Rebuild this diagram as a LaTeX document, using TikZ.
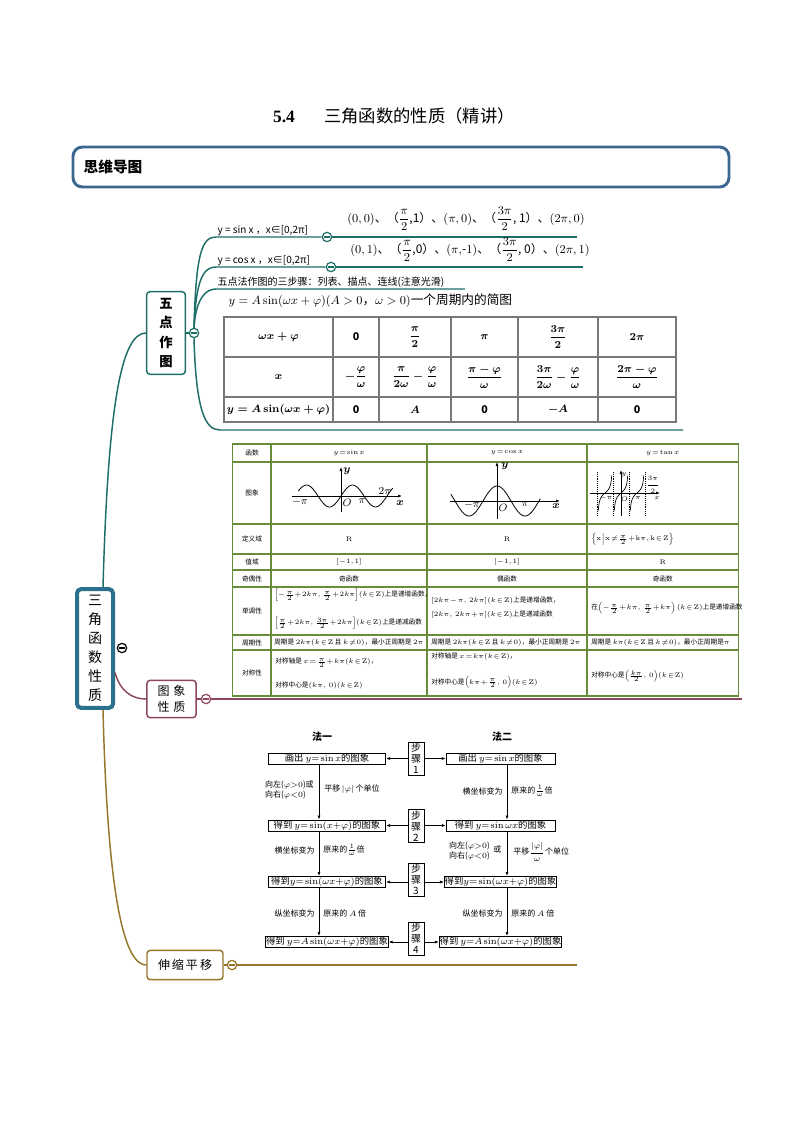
\documentclass[tikz,border=0pt]{standalone}
\usepackage{amsmath, amssymb}
\usepackage[no-math]{fontspec}
\setmainfont{Noto Sans CJK SC}
\newfontfamily\lserif{Liberation Serif}
\usetikzlibrary{arrows.meta, calc, positioning}

\definecolor{hdrblue}{RGB}{58,104,145}
\definecolor{rootblue}{RGB}{43,112,140}
\definecolor{brteal}{RGB}{30,110,104}
\definecolor{brred}{RGB}{140,72,90}
\definecolor{brgold}{RGB}{150,118,40}
\definecolor{tabgreen}{RGB}{104,140,60}
\definecolor{tabgray}{RGB}{120,120,120}

% tight spacing in small formulas
\newcommand{\tightmath}{\thinmuskip=2mu\medmuskip=1mu\thickmuskip=1.5mu}

\begin{document}
\begin{tikzpicture}[
    x=0.75pt, y=-0.75pt,
    >=Latex,
    fold/.style={circle, draw=#1, line width=0.9pt, fill=white, minimum size=7pt, inner sep=0pt,
        path picture={\draw[#1, line width=0.8pt] ([xshift=1.5pt]path picture bounding box.west) -- ([xshift=-1.5pt]path picture bounding box.east);}},
    topic/.style={draw=#1, line width=1.1pt, rounded corners=2.5pt, align=center, inner sep=0pt},
    branch/.style={draw=#1, line width=1.1pt},
    lab/.style={anchor=south west, inner sep=1pt, font=\fontsize{7.5}{9}\selectfont},
    tcell/.style={font=\fontsize{8}{9}\selectfont\boldmath\bfseries, inner sep=0pt},
    pcell/.style={font=\fontsize{5}{6}\selectfont\tightmath, inner sep=0pt, align=left},
    grid5/.style={tabgray, line width=1.1pt},
    pgrid/.style={tabgreen, line width=0.8pt},
    axis/.style={->, >={Latex[length=3pt, width=2.2pt]}, line width=0.5pt},
    glab/.style={inner sep=0pt, font=\fontsize{8}{8}\selectfont},
    tlab/.style={inner sep=0pt, font=\fontsize{4.5}{5}\selectfont},
    fbox/.style={draw, line width=0.5pt, minimum height=8.5pt, inner sep=0.3pt, font=\fontsize{7}{8}\selectfont\tightmath},
    stepbox/.style={draw, line width=0.5pt, align=center, minimum width=12pt, minimum height=24.5pt, inner sep=0.5pt, font=\fontsize{7.5}{8.2}\selectfont},
    note/.style={inner sep=0pt, align=left, font=\fontsize{6}{7.5}\selectfont\tightmath},
    flow/.style={->, >={Latex[length=3pt, width=2.2pt]}, line width=0.5pt}
]
\fill[white] (0,0) rectangle (794,1123);
\useasboundingbox (0,0) rectangle (794,1123);

% title and header
\node[font=\fontsize{13}{15}\selectfont] (title) at (394,116) {{\lserif\bfseries 5.4}\hspace{22pt}三角函数的性质（精讲）};
\draw[hdrblue, line width=2.2pt, rounded corners=7pt] (73,147) rectangle (729,187);
\node[anchor=west, font=\fontsize{11}{12}\selectfont\bfseries] (maptitle) at (79,167) {思维导图};

% root and main topics
\node[draw=rootblue, line width=3pt, rounded corners=3pt, minimum width=27pt, minimum height=89pt,
      inner sep=0pt, align=center, font=\fontsize{10.5}{14.3}\selectfont] (root) at (95,648.5) {三\\角\\函\\数\\性\\质};
\node[fold=black] (rootfold) at (122,648) {};

\node[topic=brteal, minimum width=29pt, minimum height=62pt, font=\fontsize{10}{14.3}\selectfont\bfseries] (wudian) at (166,333) {五\\点\\作\\图};
\node[fold=brteal] (wdfold) at (194,333) {};
\node[topic=brred, minimum width=37pt, minimum height=28pt, font=\fontsize{9}{12}\selectfont] (tuxiang) at (171.5,699) {图\,\,象\\性\,\,质};
\node[fold=brred] (txfold) at (206,699) {};
\node[topic=brgold, minimum width=57pt, minimum height=22pt, font=\fontsize{9}{11}\selectfont] (shensuo) at (185,965) {伸\,缩\,平\,移};
\node[fold=brgold] (ssfold) at (232,965) {};

\draw[branch=brteal] ($(root.north)+(8,0)$) .. controls +(5,-180) and +(-25,0) .. (wudian.west);
\draw[branch=brred] ($(root.east)+(0,24)$) .. controls +(5,18) and +(-15,0) .. (tuxiang.west);
\draw[branch=brgold] ($(root.south)+(8,0)$) .. controls +(5,200) and +(-20,0) .. (shensuo.west);
\draw[branch=brteal] (wudian) -- (wdfold);
\draw[branch=brred] (tuxiang) -- (txfold);
\draw[branch=brgold] (shensuo) -- (ssfold);

% five points
\node[lab] (sinlab) at (216,237) {y = sin x ，x∈[0,2π]};
\node[fold=brteal] (sinfold) at (327,237) {};
\coordinate (sinend) at (577,237);
\draw[branch=brteal] (wdfold.north) .. controls +(2,-75) and +(-14,0) .. (sinlab.south west) -- (sinfold.west);
\draw[branch=brteal] (sinfold.east) -- (sinend);
\node[font=\fontsize{9}{10}\selectfont] (sinpts) at (466,219)
    {$(0,0)$、（$\dfrac{\pi}{2}$,1）、$(\pi,0)$、（$\dfrac{3\pi}{2}$, 1）、$(2\pi,0)$};

\node[lab] (coslab) at (216,267) {y = cos x ，x∈[0,2π]};
\node[fold=brteal] (cosfold) at (331,267) {};
\coordinate (cosend) at (583,267);
\draw[branch=brteal] (wdfold.north) .. controls +(2,-50) and +(-12,0) .. (coslab.south west) -- (cosfold.west);
\draw[branch=brteal] (cosfold.east) -- (cosend);
\node[font=\fontsize{9}{10}\selectfont] (cospts) at (470,250)
    {$(0,1)$、（$\dfrac{\pi}{2}$,0）、$(\pi,$-$1)$、（$\dfrac{3\pi}{2}$, 0）、$(2\pi,1)$};

\node[lab] (steplab) at (216,289) {五点法作图的三步骤：列表、描点、连线(注意光滑)};
\coordinate (stepend) at (465,289);
\draw[branch=brteal] (wdfold.north) .. controls +(2,-30) and +(-10,0) .. (steplab.south west) -- (stepend);

\node[anchor=west, font=\fontsize{9.5}{11}\selectfont] (capt) at (224,301)
    {$y=A\sin(\omega x+\varphi)(A>0$，$\omega>0)$一个周期内的简图};

% five point table
\draw[grid5] (224,317) rectangle (676,422);
\foreach \cx in {333,379,451,518,598} \draw[grid5] (\cx,317) -- (\cx,422);
\foreach \cy in {357,397} \draw[grid5] (224,\cy) -- (676,\cy);
\foreach \t/\cx [count=\i] in {{$\omega x+\varphi$}/278.5, 0/356, {$\dfrac{\pi}{2}$}/415, {$\pi$}/484.5, {$\dfrac{3\pi}{2}$}/558, {$2\pi$}/637}
    \node[tcell] (a\i) at (\cx,337) {\t};
\foreach \t/\cx [count=\i] in {{$x$}/278.5, {$-\dfrac{\varphi}{\omega}$}/356, {$\dfrac{\pi}{2\omega}-\dfrac{\varphi}{\omega}$}/415,
        {$\dfrac{\pi-\varphi}{\omega}$}/484.5, {$\dfrac{3\pi}{2\omega}-\dfrac{\varphi}{\omega}$}/558, {$\dfrac{2\pi-\varphi}{\omega}$}/637}
    \node[tcell] (b\i) at (\cx,377) {\t};
\foreach \t/\cx [count=\i] in {{$y=A\sin(\omega x+\varphi)$}/278.5, 0/356, {$A$}/415, 0/484.5, {$-A$}/558, 0/637}
    \node[tcell] (c\i) at (\cx,409.5) {\t};

\coordinate (tblstart) at (220,430);
\coordinate (tblend) at (683,430);
\draw[branch=brteal] (wdfold.south) .. controls +(2,75) and +(-14,0) .. (tblstart) -- (tblend);

% graph properties table
\coordinate (txend) at (742,699);
\draw[branch=brred] (txfold.east) -- (txend);
\draw[pgrid] (232.5,444) rectangle (738.5,696);
\foreach \cx in {271,427,587} \draw[pgrid] (\cx,444) -- (\cx,696);
\foreach \cy in {462,524,554,570,587,635,650} \draw[pgrid] (232.5,\cy) -- (738.5,\cy);
\foreach \t/\cy [count=\i] in {函数/453, 图象/493, 定义域/539, 值域/562, 奇偶性/578.5, 单调性/611, 周期性/642.5, 对称性/673}
    \node[pcell] (h\i) at (252,\cy) {\t};

\node[pcell] (p12) at (349,453) {$y=\sin x$};
\node[pcell] (p13) at (507,453) {$y=\cos x$};
\node[pcell] (p14) at (662.75,453) {$y=\tan x$};

% sin graph
\draw[axis] (292,496) -- (402,496);
\draw[axis] (341,512) -- (341,467);
\draw[line width=0.6pt, smooth, samples=60, domain=-1.85:2.25] plot ({341+23*\x}, {496-11*sin(\x*180)});
\node[glab] (sa) at (300,502) {$-\pi$};
\node[glab] (sb) at (347,503) {$O$};
\node[glab] (sc) at (362,501) {$\pi$};
\node[glab] (sd) at (385,491) {$2\pi$};
\node[glab] (se) at (400,503) {$\boldsymbol{x}$};
\node[glab] (sf) at (347,471) {$\boldsymbol{y}$};

% cos graph
\draw[axis] (450,501) -- (560,501);
\draw[axis] (497,519) -- (497,462);
\draw[line width=0.6pt, smooth, samples=60, domain=-1.65:1.55] plot ({497+28*\x}, {501-15*cos(\x*180)});
\node[glab] (ca) at (472,505) {$-\pi$};
\node[glab] (cb) at (503,508) {$O$};
\node[glab] (cc) at (525,504) {$\pi$};
\node[glab] (cd) at (556,506) {$\boldsymbol{x}$};
\node[glab] (ce) at (505,466) {$\boldsymbol{y}$};

% tan graph
\foreach \ax in {597,613,629,645} \draw[densely dotted, line width=0.4pt] (\ax,472) -- (\ax,515);
\draw[axis] (590,493) -- (660,493);
\draw[axis] (621,516) -- (621,470);
\foreach \k in {-1,0,1}
    \draw[line width=0.5pt, smooth, samples=30, domain=-0.42:0.42] plot ({621+16*(\k+\x)}, {493-4.5*tan(\x*180)});
\node[tlab] (ta) at (606,498) {$-\pi$};
\node[tlab] (tb) at (624.5,499) {$O$};
\node[tlab] (tc) at (638,498) {$\pi$};
\node[tlab] (td) at (653,485) {$\dfrac{3\pi}{2}$};
\node[tlab] (te) at (657,498) {$x$};
\node[tlab] (tf) at (624,475) {$y$};

\node[pcell] (p32) at (349,539) {$\mathrm{R}$};
\node[pcell] (p33) at (507,539) {$\mathrm{R}$};
\node[pcell, anchor=west] (p34) at (591,539) {$\Bigl\{\mathrm{x}\Bigm|\mathrm{x}\neq\frac{\pi}{2}+\mathrm{k}\pi,\mathrm{k}\in\mathrm{Z}\Bigr\}$};
\node[pcell] (p42) at (349,562) {$[-1,1]$};
\node[pcell] (p43) at (507,562) {$[-1,1]$};
\node[pcell] (p44) at (662.75,562) {$\mathrm{R}$};
\node[pcell] (p52) at (349,578.5) {奇函数};
\node[pcell] (p53) at (507,578.5) {偶函数};
\node[pcell] (p54) at (662.75,578.5) {奇函数};
\node[pcell, anchor=west] (p62) at (274,609)
    {$\left[-\frac{\pi}{2}+2k\pi,\,\frac{\pi}{2}+2k\pi\right]$$(k\in\mathrm{Z})$上是递增函数，\\[11pt]
     $\left[\frac{\pi}{2}+2k\pi,\,\frac{3\pi}{2}+2k\pi\right]$$(k\in\mathrm{Z})$上是递减函数};
\node[pcell, anchor=west] (p63) at (431,607.5)
    {$[2k\pi-\pi,\ 2k\pi](k\in\mathrm{Z})$上是递增函数，\\[4pt]$[2k\pi,\ 2k\pi+\pi](k\in\mathrm{Z})$上是递减函数};
\node[pcell, anchor=west] (p64) at (591,608)
    {在$\left(-\frac{\pi}{2}+k\pi,\ \frac{\pi}{2}+k\pi\right)(k\in\mathrm{Z})$上是递增函数};
\node[pcell, anchor=west] (p72) at (274,642.5) {周期是 $2k\pi(k\in\mathrm{Z}$ 且 $k\neq0)$，最小正周期是 $2\pi$};
\node[pcell, anchor=west] (p73) at (431,642.5) {周期是 $2k\pi(k\in\mathrm{Z}$ 且 $k\neq0)$，最小正周期是 $2\pi$};
\node[pcell, anchor=west] (p74) at (591,642.5) {周期是 $k\pi(k\in\mathrm{Z}$ 且 $k\neq0)$，最小正周期是$\pi$};
\node[pcell, anchor=west] (p82) at (275,673.5)
    {对称轴是 $x=\frac{\pi}{2}+k\pi(k\in\mathrm{Z})$，\\[9.5pt]对称中心是$(k\pi,\ 0)(k\in\mathrm{Z})$};
\node[pcell, anchor=west] (p83) at (431,671)
    {对称轴是 $x=k\pi(k\in\mathrm{Z})$，\\[11pt]对称中心是$\Bigl(k\pi+\frac{\pi}{2},\ 0\Bigr)(k\in\mathrm{Z})$};
\node[pcell, anchor=west] (p84) at (591,676) {对称中心是$\Bigl(\frac{k\pi}{2},\ 0\Bigr)(k\in\mathrm{Z})$};

% stretch and shift flow
\coordinate (ssend) at (577,965);
\draw[branch=brgold] (ssfold.east) -- (ssend);
\node[font=\fontsize{7.5}{8}\selectfont\bfseries] (m1) at (322,737) {法一};
\node[font=\fontsize{7.5}{8}\selectfont\bfseries] (m2) at (502,737) {法二};
\node[stepbox] (s1) at (416,758.5) {步\\骤\\1};
\node[stepbox] (s2) at (416,826) {步\\骤\\2};
\node[stepbox] (s3) at (416,879.5) {步\\骤\\3};
\node[stepbox] (s4) at (416,938.5) {步\\骤\\4};
\node[fbox, minimum width=88pt] (l1) at (327,758.5) {画出 $y{=}\sin x$的图象};
\node[fbox, minimum width=81.5pt] (r1) at (500.5,758.5) {画出 $y{=}\sin x$的图象};
\node[fbox, minimum width=88pt] (l2) at (327,825.5) {得到 $y{=}\sin(x{+}\varphi)$的图象};
\node[fbox, minimum width=81.5pt] (r2) at (500.5,825.5) {得到 $y{=}\sin\omega x$的图象};
\node[fbox, minimum width=88pt] (l3) at (327,882) {得到$y{=}\sin(\omega x{+}\varphi)$的图象};
\node[fbox, minimum width=81.5pt] (r3) at (500.5,882) {得到$y{=}\sin(\omega x{+}\varphi)$的图象};
\node[fbox, minimum width=88pt] (l4) at (327,942) {得到 $y{=}A\sin(\omega x{+}\varphi)$的图象};
\node[fbox, minimum width=81.5pt] (r4) at (500.5,942) {得到 $y{=}A\sin(\omega x{+}\varphi)$的图象};
\foreach \i in {1,...,4} {
    \draw[flow] (s\i.west |- l\i) -- (l\i.east);
    \draw[flow] (s\i.east |- r\i) -- (r\i.west);
}
\coordinate (lcol) at (319,740);
\coordinate (rcol) at (507,740);
\foreach \i/\j in {1/2,2/3,3/4} {
    \draw[flow] (l\i.south -| lcol) -- (l\j.north -| lcol);
    \draw[flow] (r\i.south -| rcol) -- (r\j.north -| rcol);
}
\node[note, anchor=east] (n1) at (314,790) {向左($\varphi{>}0$)或\\向右($\varphi{<}0$)};
\node[note, anchor=west] (n2) at (324,789) {平移\,$|\varphi|$\,个单位};
\node[note, anchor=east] (n3) at (503,791) {横坐标变为};
\node[note, anchor=west] (n4) at (511,791) {原来的$\frac{1}{\omega}$倍};
\node[note, anchor=east] (n5) at (315,850) {横坐标变为};
\node[note, anchor=west] (n6) at (323,850) {原来的$\frac{1}{\omega}$倍};
\node[note, anchor=east] (n7) at (490,851) {向左($\varphi{>}0$)\\向右($\varphi{<}0$)};
\node[note, anchor=west] (n7b) at (493,849) {或};
\node[note, anchor=west] (n8) at (513,852) {平移$\dfrac{|\varphi|}{\omega}$个单位};
\node[note, anchor=east] (n9) at (315,913) {纵坐标变为};
\node[note, anchor=west] (n10) at (323,913) {原来的 $A$ 倍};
\node[note, anchor=east] (n11) at (503,913) {纵坐标变为};
\node[note, anchor=west] (n12) at (511,913) {原来的 $A$ 倍};
\end{tikzpicture}
\end{document}
